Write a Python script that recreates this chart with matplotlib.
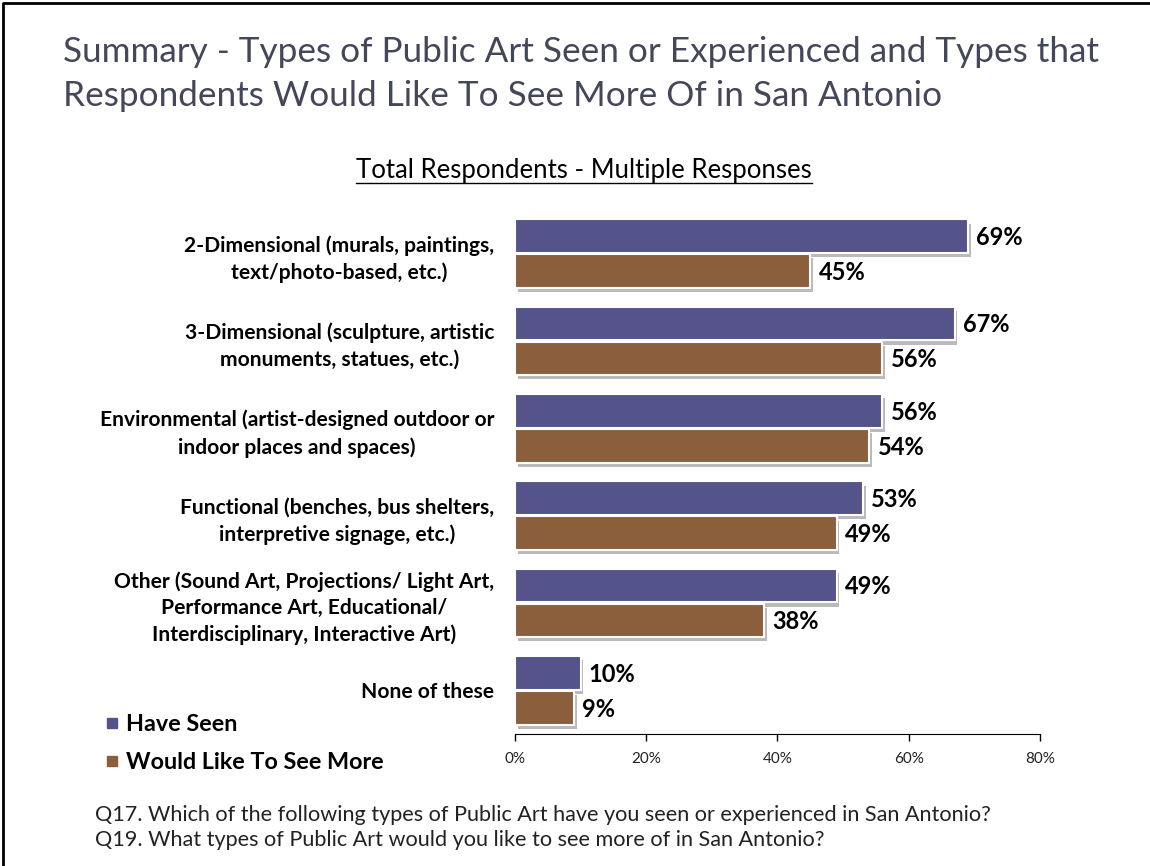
import matplotlib
matplotlib.use("Agg")
import matplotlib.pyplot as plt
import matplotlib.patheffects as pe
from matplotlib.lines import Line2D
import numpy as np

# chart data
categories = [
    "2-Dimensional (murals, paintings,\ntext/photo-based, etc.)",
    "3-Dimensional (sculpture, artistic\nmonuments, statues, etc.)",
    "Environmental (artist-designed outdoor or\nindoor places and spaces)",
    "Functional (benches, bus shelters,\ninterpretive signage, etc.)",
    "Other (Sound Art, Projections/ Light Art,\nPerformance Art, Educational/\nInterdisciplinary, Interactive Art)",
    "None of these",
]
have_seen = [69, 67, 56, 53, 49, 10]
like_more = [45, 56, 54, 49, 38, 9]
series_names = ["Have Seen", "Would Like To See More"]
x_ticks = [0, 20, 40, 60, 80]

purple = "#55548A"
brown = "#8B5E3C"
font = "Lato"

fig = plt.figure(figsize=(11.5, 8.66), dpi=100)
fig.patch.set_facecolor("white")

# slide frame (top and left edges show)
fig.add_artist(Line2D([0.003, 0.003, 1.0], [0.0, 0.997, 0.997], color="black",
                      linewidth=2, transform=fig.transFigure))

ax = fig.add_axes([0.4478, 0.1524, 0.4565, 0.6051])

y = np.arange(len(categories))
h = 0.385
shadow = [pe.SimplePatchShadow(offset=(2, -3), shadow_rgbFace="#777777", alpha=0.5), pe.Normal()]

b1 = ax.barh(y - 0.2, have_seen, height=h, color=purple, edgecolor="white", linewidth=1.5)
b2 = ax.barh(y + 0.2, like_more, height=h, color=brown, edgecolor="white", linewidth=1.5)
for bars in (b1, b2):
    for p in bars:
        p.set_path_effects(shadow)

for bars, vals in ((b1, have_seen), (b2, like_more)):
    for p, v in zip(bars, vals):
        ax.annotate(f"{v}%", (v, p.get_y() + p.get_height() / 2), xytext=(6, -1),
                    textcoords="offset points", va="center", ha="left",
                    fontsize=17, fontweight="bold", family=font, color="black")

ax.set_xlim(0, 80)
ax.set_ylim(len(categories) - 0.5, -0.5)
ax.set_xticks(x_ticks)
ax.set_xticklabels([f"{t}%" for t in x_ticks], fontsize=11, family=font, color="#222222")
ax.tick_params(axis="x", direction="out", length=5, width=1, pad=8)
ax.set_yticks(y)
ax.set_yticklabels(categories, fontsize=15.1, fontweight="bold", family=font,
                   multialignment="center", linespacing=1.4)
ax.tick_params(axis="y", length=0, pad=15)
for s in ("top", "right", "left"):
    ax.spines[s].set_visible(False)

# title
fig.text(0.055, 0.958, "Summary - Types of Public Art Seen or Experienced and Types that\n"
         "Respondents Would Like To See More Of in San Antonio",
         fontsize=25.3, family=font, color="#44465A", va="top", ha="left", linespacing=1.45)

# subtitle with underline
sub = fig.text(0.508, 0.795, "Total Respondents - Multiple Responses", fontsize=18.5,
               family=font, color="black", ha="center", va="baseline")
fig.canvas.draw()
bb = sub.get_window_extent().transformed(fig.transFigure.inverted())
fig.add_artist(Line2D([bb.x0, bb.x1], [0.789, 0.789], color="black", linewidth=1,
                      transform=fig.transFigure))

# legend
handles = [Line2D([], [], marker="s", linestyle="none", markersize=7, color=c)
           for c in (purple, brown)]
fig.legend(handles, series_names, loc="upper left", bbox_to_anchor=(0.071, 0.2),
           frameon=False, handletextpad=0.2, labelspacing=0.75, handlelength=0.8,
           prop={"family": font, "weight": "bold", "size": 16.8})

# footnotes
fig.text(0.083, 0.044, "Q17. Which of the following types of Public Art have you seen or experienced in San Antonio?\n"
         "Q19. What types of Public Art would you like to see more of in San Antonio?",
         fontsize=15.6, family=font, color="#222222", va="center", ha="left", linespacing=1.3)

fig.savefig("out.png", dpi=100)
